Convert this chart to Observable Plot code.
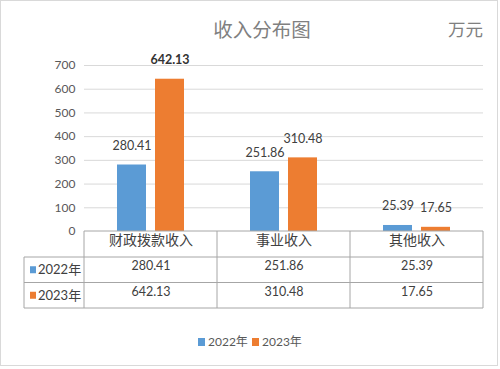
<!DOCTYPE html>
<html><head><meta charset="utf-8">
<script src="https://cdn.jsdelivr.net/npm/d3@7"></script>
<script src="https://cdn.jsdelivr.net/npm/@observablehq/plot@0.6"></script>
<style>
html,body{margin:0;padding:0;background:#fff;}
#chart{width:500px;height:369px;overflow:hidden;}
</style></head><body><div id="chart"></div>
<script>
const categories = ["财政拨款收入", "事业收入", "其他收入"];
const years = ["2022年", "2023年"];
const values2022 = [280.41, 251.86, 25.39];
const values2023 = [642.13, 310.48, 17.65];
const yTicks = [0, 100, 200, 300, 400, 500, 600, 700];
const title = "收入分布图";
const unit = "万元";
const colors = ["#5B9BD5", "#ED7D31"];

const rows2022 = categories.map((c, i) => ({category: c, year: years[0], value: values2022[i]}));
const rows2023 = categories.map((c, i) => ({category: c, year: years[1], value: values2023[i]}));
const fmt = d => d.value.toFixed(2);
const isMax = d => d.value > 600;

const numFont = "Lato, 'Noto Sans CJK SC', sans-serif";
const cjkFont = "'Noto Sans CJK SC', Lato, sans-serif";
const tableColor = "#a6a6a6";
const textColor = "#404040";

const plot = Plot.plot({
  width: 500,
  height: 369,
  marginTop: 65,
  marginBottom: 138,
  marginLeft: 84,
  marginRight: 17,
  style: {fontFamily: numFont, fontSize: "12px", color: textColor, background: "#fff"},
  x: {domain: categories, padding: 0, axis: null},
  y: {domain: [0, 700], axis: null},
  marks: [
    Plot.gridY({ticks: yTicks.slice(1), stroke: "#d9d9d9", strokeOpacity: 1}),
    Plot.axisY({ticks: yTicks, tickSize: 0, tickPadding: 9, fill: "#595959", fontSize: 12, label: null, tickFormat: d => d}),
    Plot.barY(rows2022, {x: "category", y: "value", fill: colors[0], insetLeft: 52, insetRight: 52, dx: -19}),
    Plot.barY(rows2023, {x: "category", y: "value", fill: colors[1], insetLeft: 52, insetRight: 52, dx: 19}),
    Plot.text(rows2022, {x: "category", y: "value", text: fmt, dx: -19, dy: -19, fill: textColor, fontSize: 12.5}),
    Plot.text(rows2023.filter(d => !isMax(d)), {x: "category", y: "value", text: fmt, dx: 19, dy: -19, fill: textColor, fontSize: 12.5}),
    Plot.text(rows2023.filter(isMax), {x: "category", y: "value", text: fmt, dx: 19, dy: -19, fill: "#333", fontSize: 12.5, fontWeight: "bold"}),
    // table: header row
    Plot.text(categories, {x: d => d, frameAnchor: "bottom", dy: 13, fill: textColor, fontSize: 14, fontFamily: cjkFont}),
    // table: value rows
    Plot.text(rows2022, {x: "category", frameAnchor: "bottom", dy: 38.5, text: fmt, fill: textColor, fontSize: 12.5}),
    Plot.text(rows2023, {x: "category", frameAnchor: "bottom", dy: 64, text: fmt, fill: textColor, fontSize: 12.5})
  ]
});

document.getElementById("chart").appendChild(plot);

const svg = d3.select(plot);
const xs = plot.scale("x");
const ys = plot.scale("y");
const bw = xs.bandwidth;
const xLeft = xs.apply(categories[0]);
const xRight = xs.apply(categories[categories.length - 1]) + bw;
const bounds = categories.map(c => xs.apply(c)).concat([xRight]);
const yTop = ys.apply(0);
const rowH = [26, 25.5, 25.5];
const rowY = [yTop, yTop + rowH[0], yTop + rowH[0] + rowH[1], yTop + rowH[0] + rowH[1] + rowH[2]];
const labelLeft = 24;

const g = svg.append("g").attr("stroke", tableColor).attr("stroke-width", 1).attr("fill", "none");
// outer page border
svg.insert("rect", ":first-child").attr("x", 0.5).attr("y", 0.5).attr("width", 497).attr("height", 365)
  .attr("fill", "#fff").attr("stroke", "#d9d9d9");
// top line (baseline)
g.append("line").attr("x1", xLeft).attr("x2", xRight).attr("y1", rowY[0]).attr("y2", rowY[0]);
// horizontal row lines
[1, 2, 3].forEach(i => g.append("line").attr("x1", labelLeft).attr("x2", xRight).attr("y1", rowY[i]).attr("y2", rowY[i]));
// vertical lines
bounds.forEach(b => g.append("line").attr("x1", b).attr("x2", b).attr("y1", rowY[0]).attr("y2", rowY[3]));
g.append("line").attr("x1", labelLeft).attr("x2", labelLeft).attr("y1", rowY[1]).attr("y2", rowY[3]);

// row labels
years.forEach((y, i) => {
  const cy = (rowY[i + 1] + rowY[i + 2]) / 2;
  svg.append("rect").attr("x", 30).attr("y", cy - 3.5).attr("width", 6).attr("height", 7).attr("fill", colors[i]);
  svg.append("text").attr("x", 38).attr("y", cy).attr("dy", "0.35em").attr("text-anchor", "start").attr("fill", textColor)
    .attr("font-size", 13).attr("font-family", numFont).text(y);
});

// title & unit
svg.append("text").attr("x", 262).attr("y", 30).attr("dy", "0.35em").attr("text-anchor", "middle")
  .attr("fill", "#808080").attr("font-size", 19.5).attr("font-family", cjkFont).text(title);
svg.append("text").attr("x", 483).attr("y", 30).attr("dy", "0.35em").attr("text-anchor", "end")
  .attr("fill", "#808080").attr("font-size", 17.5).attr("font-family", cjkFont).text(unit);

// legend
const legendY = 342;
const legendX = [198, 252];
years.forEach((y, i) => {
  svg.append("rect").attr("x", legendX[i]).attr("y", legendY - 4).attr("width", 7).attr("height", 8).attr("fill", colors[i]);
  svg.append("text").attr("x", legendX[i] + 10).attr("y", legendY).attr("dy", "0.35em").attr("text-anchor", "start").attr("fill", "#595959")
    .attr("font-size", 12).attr("font-family", numFont).text(y);
});
</script>
</body></html>
